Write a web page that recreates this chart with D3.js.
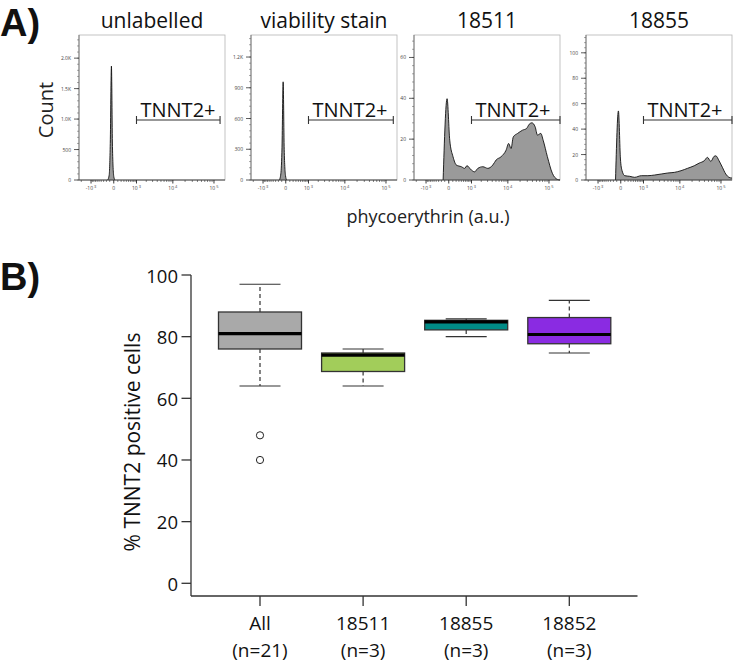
<!DOCTYPE html>
<html><head><meta charset="utf-8">
<script src="https://cdn.jsdelivr.net/npm/d3@7"></script>
<style>
body{margin:0;background:#fff;}
svg{display:block;font-family:"Open Sans","Noto Sans",sans-serif;}
</style>
</head><body>
<svg id="c" width="733" height="668"></svg>
<script>
// ---------------- DATA ----------------
const flowTitles = ["unlabelled", "viability stain", "18511", "18855"];

// histogram channels (PE intensity, a.u.) and counts
const unlabelledX = [-160, -115, -85, -55, -30, 0, 25];
const unlabelledY = [0, 80, 600, 1870, 550, 60, 0];

const viabilityX = [-170, -125, -92, -62, -36, -5, 20];
const viabilityY = [0, 60, 320, 958, 300, 40, 0];

const line18511X = [-146, -39, 22, 106, 210, 402, 561, 690, 986, 1261, 1590, 2217, 3041, 4126, 5051, 6770, 9028, 10470, 12000, 13640, 17400, 23000, 28700, 33400, 38700, 46500, 52800, 63600, 72400, 91600, 120500, 158800, 184000];
const line18511Y = [0, 39.8, 19.5, 11.4, 7.3, 6.5, 5.7, 7, 4.9, 4, 5.7, 6.5, 5.7, 7.3, 9.8, 11.4, 14.6, 17.9, 15.4, 21.1, 22.8, 24.4, 25.2, 27.3, 28, 26, 22, 22.8, 19.5, 11.4, 3.3, 0.3, 0];

const line18855X = [-134, -55, -7, 30, 98, 255, 461, 843, 1384, 2175, 3317, 4930, 7300, 10700, 15560, 22600, 29900, 39400, 47200, 57000, 68400, 75100, 90000, 108000, 130400, 156500, 184000];
const line18855Y = [0, 54.3, 16.5, 7.3, 3.4, 2.9, 2.1, 3.4, 3.4, 3.9, 4.7, 5.5, 6, 7.3, 9.2, 11.2, 13.3, 15.1, 17.8, 14.6, 18.6, 19, 15.1, 10, 4.7, 2.1, 1.5];

const flowX = [unlabelledX, viabilityX, line18511X, line18855X];
const flowY = [unlabelledY, viabilityY, line18511Y, line18855Y];

const flowYMax = [2380, 1415, 71, 114];
const yMajorTicks = [[0, 500, 1000, 1500, 2000], [0, 300, 600, 900, 1200], [0, 20, 40, 60], [0, 20, 40, 60, 80, 100]];
const yMajorLabels = [["0", "500", "1.0K", "1.5K", "2.0K"], ["0", "300", "600", "900", "1.2K"], ["0", "20", "40", "60"], ["0", "20", "40", "60", "80", "100"]];
const yMinorStep = [100, 60, 4, 4];

const xDomain = [-2320, 184000];
const xMajorTicks = [-1000, 0, 1000, 10000, 100000];
const xMajorBase = ["-10", "0", "10", "10", "10"];
const xMajorExp = ["3", "", "3", "4", "5"];
const xMinorTicks = [-2000, -900, -800, -700, -600, -500, -400, -300, -200, -100, 100, 200, 300, 400, 500, 600, 700, 800, 900,
  2000, 3000, 4000, 5000, 6000, 7000, 8000, 9000, 20000, 30000, 40000, 50000, 60000, 70000, 80000, 90000];

const gateLabel = "TNNT2+";
const gateMin = [1000, 1000, 1000, 1000];
const gateMax = [140000, 150000, 184000, 184000];

// Panel B box plot
const boxCats = ["All", "18511", "18855", "18852"];
const boxN = ["(n=21)", "(n=3)", "(n=3)", "(n=3)"];
const boxLowerWhisker = [64, 64, 80, 74.7];
const boxQ1 = [76, 68.7, 82.2, 77.7];
const boxMedian = [81, 74, 84.8, 80.7];
const boxQ3 = [88, 74.7, 85.3, 86.2];
const boxUpperWhisker = [97, 76, 85.8, 91.8];
const boxOutliers = [[48, 40], [], [], []];
const boxColors = ["#a9a9a9", "#a2cd5a", "#008b86", "#8a2be2"];
const boxYTicks = [0, 20, 40, 60, 80, 100];

// ---------------- LAYOUT ----------------
const svg = d3.select("#c");
const panelLefts = [79, 251, 414, 586];
const panelW = 146, panelTop = 35, panelBottom = 180;
const gateYpx = 120;
const ink = "#222";

svg.append("text").attr("x", 0).attr("y", 36).attr("font-family", "Liberation Sans, Arial, sans-serif")
  .attr("font-weight", "bold").attr("font-size", 38).attr("fill", "#111").text("A)");
svg.append("text").attr("x", 0).attr("y", 290).attr("font-family", "Liberation Sans, Arial, sans-serif")
  .attr("font-weight", "bold").attr("font-size", 38).attr("fill", "#111").text("B)");

svg.append("text").attr("transform", "translate(45,110) rotate(-90)").attr("text-anchor", "middle")
  .attr("dominant-baseline", "central").attr("font-size", 20).attr("fill", ink).text("Count");
svg.append("text").attr("x", 428).attr("y", 223).attr("text-anchor", "middle")
  .attr("font-size", 18).attr("fill", ink).text("phycoerythrin (a.u.)");

flowTitles.forEach((title, i) => {
  const L = panelLefts[i];
  const g = svg.append("g");
  const x = d3.scaleSymlog().constant(400).domain(xDomain).range([L, L + panelW]);
  const y = d3.scaleLinear().domain([0, flowYMax[i]]).range([panelBottom, panelTop]);

  g.append("text").attr("x", L + panelW / 2).attr("y", 28).attr("text-anchor", "middle")
    .attr("font-size", 21).attr("fill", "#111").text(title);

  g.append("rect").attr("x", L).attr("y", panelTop).attr("width", panelW).attr("height", panelBottom - panelTop)
    .attr("fill", "none").attr("stroke", "#b5b5b5").attr("stroke-width", 0.8);

  const pts = flowX[i].map((v, j) => [v, flowY[i][j]]);
  const area = d3.area().x(d => x(d[0])).y0(y(0)).y1(d => y(d[1])).curve(d3.curveMonotoneX);
  const line = d3.line().x(d => x(d[0])).y(d => y(d[1])).curve(d3.curveMonotoneX);
  g.append("path").attr("d", area(pts)).attr("fill", "#9a9a9a");
  g.append("path").attr("d", line(pts)).attr("fill", "none").attr("stroke", "#111").attr("stroke-width", 0.9);

  g.append("line").attr("x1", L).attr("x2", L + panelW).attr("y1", panelBottom).attr("y2", panelBottom)
    .attr("stroke", "#333").attr("stroke-width", 0.9);
  g.append("line").attr("x1", L).attr("x2", L).attr("y1", panelTop).attr("y2", panelBottom)
    .attr("stroke", "#555").attr("stroke-width", 0.7);

  const minor = d3.range(0, flowYMax[i], yMinorStep[i]);
  g.selectAll(null).data(minor).join("line")
    .attr("x1", L - 2).attr("x2", L).attr("y1", d => y(d)).attr("y2", d => y(d))
    .attr("stroke", "#555").attr("stroke-width", 0.5);
  g.selectAll(null).data(yMajorTicks[i]).join("line")
    .attr("x1", L - 5).attr("x2", L).attr("y1", d => y(d)).attr("y2", d => y(d))
    .attr("stroke", "#333").attr("stroke-width", 0.8);
  g.selectAll(null).data(yMajorTicks[i]).join("text")
    .attr("x", L - 8).attr("y", d => y(d)).attr("dominant-baseline", "central").attr("text-anchor", "end")
    .attr("font-size", 5).attr("fill", "#444").text((d, k) => yMajorLabels[i][k]);

  g.selectAll(null).data(xMinorTicks).join("line")
    .attr("x1", d => x(d)).attr("x2", d => x(d)).attr("y1", panelBottom).attr("y2", panelBottom + 2)
    .attr("stroke", "#333").attr("stroke-width", 0.6);
  g.selectAll(null).data(xMajorTicks).join("line")
    .attr("x1", d => x(d)).attr("x2", d => x(d)).attr("y1", panelBottom).attr("y2", panelBottom + 3.5)
    .attr("stroke", "#222").attr("stroke-width", 0.9);
  const xl = g.selectAll(null).data(xMajorTicks).join("text")
    .attr("x", d => x(d)).attr("y", panelBottom + 10).attr("text-anchor", "middle")
    .attr("font-size", 5).attr("fill", "#444");
  xl.append("tspan").text((d, k) => xMajorBase[k]);
  xl.append("tspan").attr("dy", -2.5).attr("font-size", 4).text((d, k) => xMajorExp[k] ? " " + xMajorExp[k] : "");

  const gx1 = x(gateMin[i]), gx2 = x(gateMax[i]);
  g.append("line").attr("x1", gx1).attr("x2", gx2).attr("y1", gateYpx).attr("y2", gateYpx)
    .attr("stroke", "#333").attr("stroke-width", 1.1);
  [gx1, gx2].forEach(gx => g.append("line").attr("x1", gx).attr("x2", gx)
    .attr("y1", gateYpx - 4).attr("y2", gateYpx + 4).attr("stroke", "#333").attr("stroke-width", 1.1));
  g.append("text").attr("x", gx1 + 4).attr("y", gateYpx - 3).attr("font-size", 20)
    .attr("fill", "#111").text(gateLabel);
});

// ---------------- PANEL B ----------------
const by = d3.scaleLinear().domain([0, 100]).range([583.3, 275]);
const bx = d3.scalePoint().domain(boxCats).range([260, 569.3]);
const boxW = 83, capW = 41;
const axisY = 596, axisX = 191;
const gB = svg.append("g");

gB.append("line").attr("x1", axisX).attr("x2", 637.5).attr("y1", axisY).attr("y2", axisY)
  .attr("stroke", "#333").attr("stroke-width", 1.3);
gB.append("line").attr("x1", axisX).attr("x2", axisX).attr("y1", by(100)).attr("y2", axisY)
  .attr("stroke", "#333").attr("stroke-width", 1.3);

gB.selectAll(null).data(boxYTicks).join("line")
  .attr("x1", axisX - 9.5).attr("x2", axisX).attr("y1", d => by(d)).attr("y2", d => by(d))
  .attr("stroke", "#333").attr("stroke-width", 1.3);
gB.selectAll(null).data(boxYTicks).join("text")
  .attr("x", axisX - 13).attr("y", d => by(d)).attr("dominant-baseline", "central").attr("text-anchor", "end")
  .attr("font-size", 18.5).attr("fill", "#111").text(d => d);

gB.append("text").attr("transform", "translate(132,442) rotate(-90)").attr("text-anchor", "middle")
  .attr("dominant-baseline", "central").attr("font-size", 21).attr("fill", "#111").text("% TNNT2 positive cells");

gB.selectAll(null).data(boxCats).join("line")
  .attr("x1", d => bx(d)).attr("x2", d => bx(d)).attr("y1", axisY).attr("y2", axisY + 10)
  .attr("stroke", "#333").attr("stroke-width", 1.3);
gB.selectAll(null).data(boxCats).join("text")
  .attr("x", d => bx(d)).attr("y", 630).attr("text-anchor", "middle").attr("font-size", 19).attr("fill", "#111").text(d => d);
gB.selectAll(null).data(boxCats).join("text")
  .attr("x", d => bx(d)).attr("y", 657).attr("text-anchor", "middle").attr("font-size", 19).attr("fill", "#111")
  .text((d, i) => boxN[i]);

boxCats.forEach((c, i) => {
  const cx = bx(c);
  gB.append("line").attr("x1", cx).attr("x2", cx).attr("y1", by(boxQ3[i])).attr("y2", by(boxUpperWhisker[i]))
    .attr("stroke", "#333").attr("stroke-width", 1.2).attr("stroke-dasharray", "4,3");
  gB.append("line").attr("x1", cx).attr("x2", cx).attr("y1", by(boxQ1[i])).attr("y2", by(boxLowerWhisker[i]))
    .attr("stroke", "#333").attr("stroke-width", 1.2).attr("stroke-dasharray", "4,3");
  [boxUpperWhisker[i], boxLowerWhisker[i]].forEach(v => gB.append("line")
    .attr("x1", cx - capW / 2).attr("x2", cx + capW / 2).attr("y1", by(v)).attr("y2", by(v))
    .attr("stroke", "#333").attr("stroke-width", 1.2));
  gB.append("rect").attr("x", cx - boxW / 2).attr("width", boxW)
    .attr("y", by(boxQ3[i])).attr("height", by(boxQ1[i]) - by(boxQ3[i]))
    .attr("fill", boxColors[i]).attr("stroke", "#333").attr("stroke-width", 1.3);
  gB.append("line").attr("x1", cx - boxW / 2).attr("x2", cx + boxW / 2)
    .attr("y1", by(boxMedian[i])).attr("y2", by(boxMedian[i])).attr("stroke", "#000").attr("stroke-width", 3.2);
  gB.selectAll(null).data(boxOutliers[i]).join("circle")
    .attr("cx", cx).attr("cy", d => by(d)).attr("r", 3.6)
    .attr("fill", "none").attr("stroke", "#222").attr("stroke-width", 1);
});
</script>
</body></html>
